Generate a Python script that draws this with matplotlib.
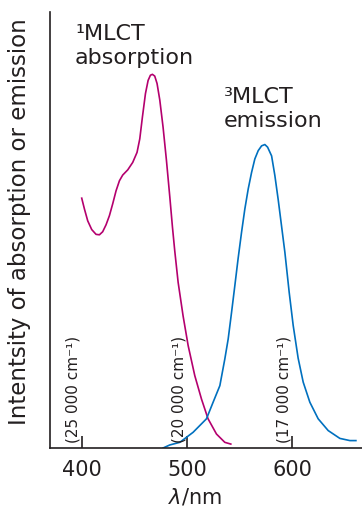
import matplotlib
matplotlib.use("Agg")
import matplotlib.pyplot as plt
import matplotlib.transforms as mtransforms

plt.rcParams['font.family'] = ['DejaVu Sans']
plt.rcParams['mathtext.fontset'] = 'dejavusans'

# Data (wavelength in nm, relative intensity)
abs_nm = [400.0, 402.6, 405.7, 409.5, 413.6, 416.8, 419.9, 423.1, 426.3, 429.4,
          432.6, 435.8, 438.9, 443.7, 448.4, 452.5, 455.1, 457.6, 460.5, 463.0,
          465.2, 467.1, 469.3, 471.5, 474.1, 477.2, 480.4, 483.6, 486.1, 488.3,
          491.5, 496.2, 501.0, 507.3, 513.7, 519.9, 527.9, 535.8, 541.5]
abs_int = [0.573, 0.548, 0.521, 0.501, 0.490, 0.489, 0.496, 0.512, 0.533, 0.560,
           0.590, 0.613, 0.626, 0.638, 0.655, 0.678, 0.709, 0.759, 0.813, 0.843,
           0.855, 0.857, 0.853, 0.836, 0.798, 0.736, 0.660, 0.576, 0.507, 0.452,
           0.380, 0.303, 0.235, 0.166, 0.112, 0.067, 0.032, 0.013, 0.009]

em_nm = [477.2, 483.6, 493.1, 505.7, 518.4, 524.7, 531.1, 535.8, 539.0, 542.2,
         545.3, 548.4, 551.7, 554.8, 558.0, 561.2, 564.3, 567.5, 570.7, 573.8,
         576.4, 580.2, 583.3, 586.5, 589.6, 592.8, 596.9, 600.7, 605.4, 610.2,
         616.5, 624.4, 633.9, 645.0, 654.5, 660.2]
em_int = [0.000, 0.007, 0.013, 0.036, 0.067, 0.105, 0.143, 0.204, 0.250, 0.311,
          0.372, 0.434, 0.495, 0.548, 0.594, 0.632, 0.663, 0.682, 0.693, 0.696,
          0.690, 0.670, 0.625, 0.569, 0.510, 0.449, 0.357, 0.281, 0.206, 0.151,
          0.105, 0.067, 0.040, 0.022, 0.017, 0.017]

tick_vals = [400, 500, 600]
wavenumber_labels = ['(25 000 cm⁻¹)', '(20 000 cm⁻¹)', '(17 000 cm⁻¹)']

text_c = '#231F20'
mag = '#B4006E'
blue = '#0070BF'

fig = plt.figure(figsize=(3.62, 5.10), dpi=100)
ax = fig.add_axes([50/362, 61/510, 1 - 50/362, (449-13)/510])

ax.plot(abs_nm, abs_int, color=mag, lw=1.2, solid_joinstyle='round')
ax.plot(em_nm, em_int, color=blue, lw=1.2, solid_joinstyle='round')

ax.set_xlim(369.9, 666)
ax.set_ylim(0, 1.0)

for s in ['top', 'right']:
    ax.spines[s].set_visible(False)
for s in ['left', 'bottom']:
    ax.spines[s].set_color(text_c)
    ax.spines[s].set_linewidth(1.2)

ax.set_xticks(tick_vals)
ax.set_xticklabels([str(v) for v in tick_vals])
ax.tick_params(axis='x', direction='in', length=9, width=1.2, colors=text_c,
               labelsize=15, pad=8)
ax.set_yticks([])

ax.set_xlabel(r'$\lambda$/nm', fontsize=15, color=text_c, labelpad=6)
ax.xaxis.set_label_coords((195-50)/312, -0.085)

fig.text(20/362, 1 - 222/510, 'Intentsity of absorption or emission',
         rotation=90, ha='center', va='center', fontsize=16.5, color=text_c)

trans = mtransforms.blended_transform_factory(ax.transData, ax.transAxes)
for v, lab in zip(tick_vals, wavenumber_labels):
    ax.text(v - 1, 0.013, lab, transform=trans, rotation=90, ha='right',
            va='bottom', fontsize=11, color=text_c)

ax.text(0.08, 0.975, '¹MLCT\nabsorption', transform=ax.transAxes, ha='left',
        va='top', fontsize=16, color=text_c, linespacing=1.25)
ax.text(0.558, 0.83, '³MLCT\nemission', transform=ax.transAxes, ha='left',
        va='top', fontsize=16, color=text_c, linespacing=1.25)

fig.savefig('out.png', dpi=100)
